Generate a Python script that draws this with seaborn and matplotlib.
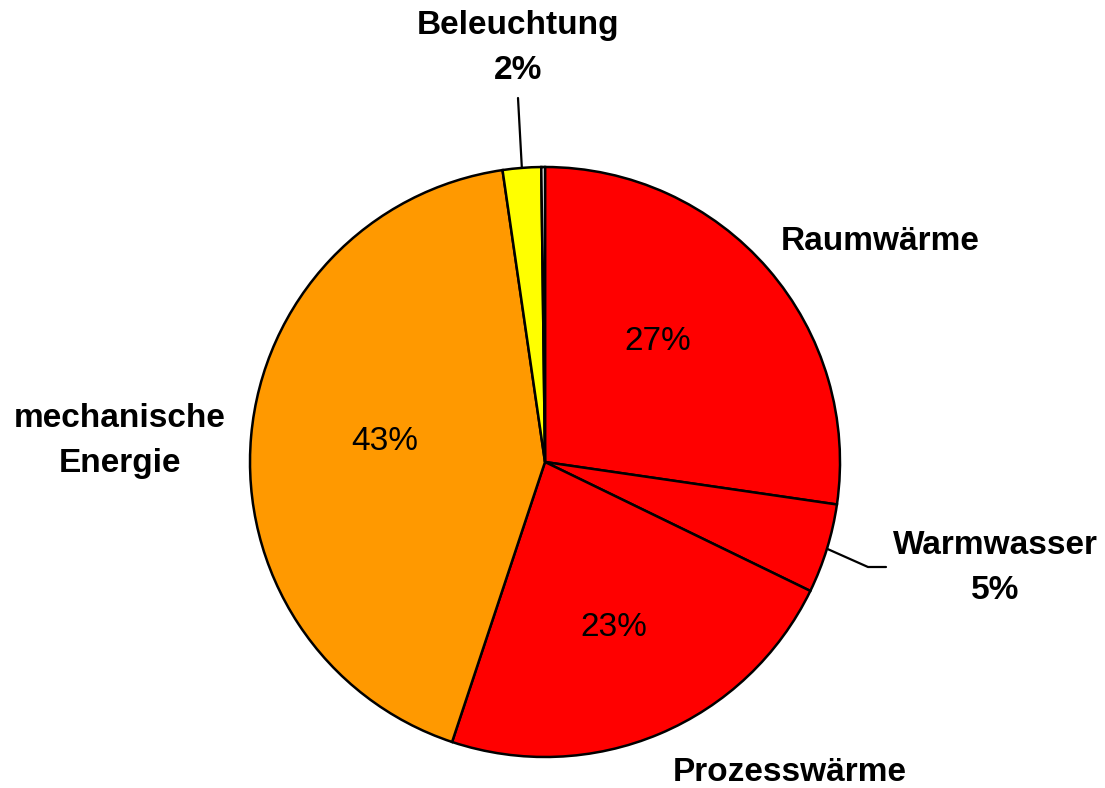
import numpy as np
import matplotlib
matplotlib.use("Agg")
import matplotlib.pyplot as plt
import seaborn as sns

sns.set_theme(style="white")
plt.rcParams['font.family'] = ['Liberation Sans', 'DejaVu Sans']

categories = ["Raumwärme", "Warmwasser", "Prozesswärme", "mechanische\nEnergie", "Beleuchtung", ""]
values = [27.3, 4.9, 22.9, 42.6, 2.1, 0.2]
colors = ["#FF0000", "#FF0000", "#FF0000", "#FF9900", "#FFFF00", "#FFFFFF"]
inner_pct = [True, False, True, True, False, False]
outer_with_pct = [False, True, False, False, True, False]

W, H = 1105, 788
cx, cy, R = 545, 462, 295

fig = plt.figure(figsize=(W / 100, H / 100), dpi=100)
ax = fig.add_axes([0, 0, 1, 1])

wedges, _ = ax.pie(values, colors=colors, startangle=90, counterclock=False,
                   radius=1.0, wedgeprops=dict(edgecolor='black', linewidth=1.8))

ax.set_aspect('auto')
ax.set_xlim(-cx / R, (W - cx) / R)
ax.set_ylim(-(H - cy) / R, cy / R)
ax.axis('off')

total = sum(values)
cum = np.cumsum([0] + values[:-1])
mids = [(c + v / 2) / total * 360 for c, v in zip(cum, values)]

def polar(ang, r):
    a = np.deg2rad(ang)
    return r * np.sin(a), r * np.cos(a)

def px(x, y):
    return (x - cx) / R, (cy - y) / R

# inner percentage labels (positions in reference pixels)
inner_pos = {0: px(658, 342), 2: px(614, 627), 3: px(385, 442)}
for i, (lx, ly) in inner_pos.items():
    ax.text(lx, ly, f"{round(values[i]):d}%", ha='center', va='center',
            fontsize=24, color='black')

# outer labels (positions in reference pixels)
label_pos = {
    0: px(880, 242),
    1: px(995, 568),
    2: px(790, 772),
    3: px(120, 441),
    4: px(518, 48),
}
for i, (lx, ly) in label_pos.items():
    txt = categories[i]
    if outer_with_pct[i]:
        txt = f"{txt}\n{round(values[i]):d}%"
    ax.text(lx, ly, txt, ha='center', va='center', fontsize=24, fontweight='bold',
            color='black', linespacing=1.55)

# leader lines
ex, ey = polar(mids[1], 1.0)
ax.plot([ex, px(868, 567)[0], px(886, 567)[0]], [ey, px(868, 567)[1], px(886, 567)[1]],
        color='black', lw=1.6)
ex, ey = polar(mids[4], 1.0)
ax.plot([ex, px(518, 98)[0]], [ey, px(518, 98)[1]], color='black', lw=1.6)

fig.savefig("out.png", dpi=100, facecolor='white')
